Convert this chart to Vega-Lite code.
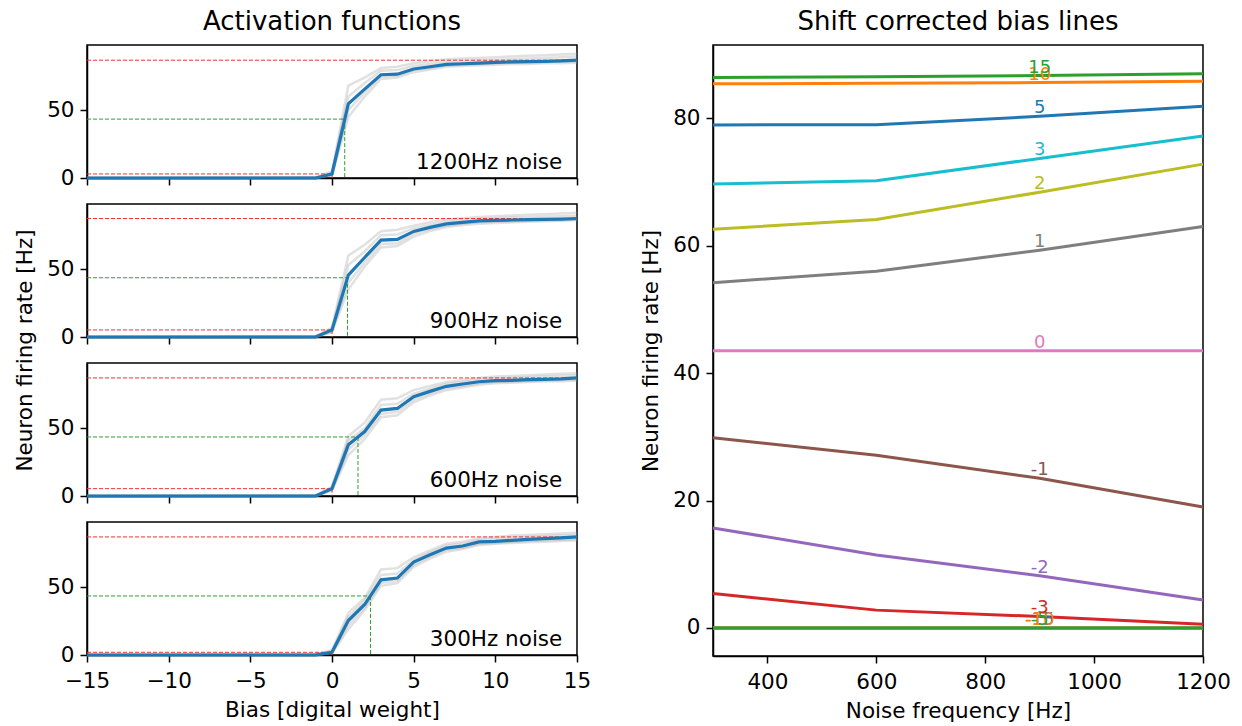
{
"$schema":"https://vega.github.io/schema/vega-lite/v6.json",
"autosize":{"type":"pad"},
"padding":{"left":13,"top":8,"right":10,"bottom":5},
"background":"white",
"config":{
 "font":"DejaVu Sans",
 "view":{"stroke":"black","strokeWidth":1.5},
 "axis":{"domainColor":"black","domainWidth":1.5,"tickColor":"black","tickWidth":1.5,"tickSize":7,"labelFontSize":21.5,"labelColor":"black","titleFontSize":21.5,"titleFontWeight":"normal","titleColor":"black","grid":false,"labelFont":"DejaVu Sans","titleFont":"DejaVu Sans","labelPadding":3,"labelFlush":false,"labelOverlap":false,"labelBound":false,"format":"d"},
 "axisY":{"labelPadding":6,"titlePadding":10},
 "axisX":{"labelPadding":8,"titlePadding":8},
 "title":{"fontSize":26,"fontWeight":"normal","font":"DejaVu Sans","color":"black","offset":10,"anchor":"middle"},
 "text":{"font":"DejaVu Sans"}
},
"datasets":{
"act":[
{"p":1200,"s":"m","b":-15,"v":0},{"p":1200,"s":"m","b":-1,"v":0},{"p":1200,"s":"m","b":0,"v":3},{"p":1200,"s":"m","b":1,"v":54.7},{"p":1200,"s":"m","b":2,"v":65.5},{"p":1200,"s":"m","b":3,"v":76.1},{"p":1200,"s":"m","b":4,"v":76.5},{"p":1200,"s":"m","b":5,"v":80.3},{"p":1200,"s":"m","b":6,"v":82},{"p":1200,"s":"m","b":7,"v":83.7},{"p":1200,"s":"m","b":8,"v":84.2},{"p":1200,"s":"m","b":9,"v":84.7},{"p":1200,"s":"m","b":10,"v":85.2},{"p":1200,"s":"m","b":11,"v":85.5},{"p":1200,"s":"m","b":12,"v":85.7},{"p":1200,"s":"m","b":13,"v":86},{"p":1200,"s":"m","b":14,"v":86.3},{"p":1200,"s":"m","b":15,"v":86.8},
{"p":1200,"s":"g1","b":-15,"v":0},{"p":1200,"s":"g1","b":-1,"v":0.5},{"p":1200,"s":"g1","b":0,"v":5},{"p":1200,"s":"g1","b":1,"v":68},{"p":1200,"s":"g1","b":2,"v":74},{"p":1200,"s":"g1","b":3,"v":81},{"p":1200,"s":"g1","b":4,"v":82},{"p":1200,"s":"g1","b":5,"v":84.5},{"p":1200,"s":"g1","b":6,"v":86},{"p":1200,"s":"g1","b":7,"v":87.5},{"p":1200,"s":"g1","b":8,"v":88},{"p":1200,"s":"g1","b":9,"v":88.5},{"p":1200,"s":"g1","b":10,"v":89},{"p":1200,"s":"g1","b":11,"v":89.5},{"p":1200,"s":"g1","b":12,"v":90},{"p":1200,"s":"g1","b":13,"v":90.5},{"p":1200,"s":"g1","b":14,"v":91},{"p":1200,"s":"g1","b":15,"v":91.5},
{"p":1200,"s":"g2","b":-15,"v":0},{"p":1200,"s":"g2","b":-1,"v":0},{"p":1200,"s":"g2","b":0,"v":2},{"p":1200,"s":"g2","b":1,"v":45},{"p":1200,"s":"g2","b":2,"v":60},{"p":1200,"s":"g2","b":3,"v":73},{"p":1200,"s":"g2","b":4,"v":74},{"p":1200,"s":"g2","b":5,"v":78},{"p":1200,"s":"g2","b":6,"v":80},{"p":1200,"s":"g2","b":7,"v":82},{"p":1200,"s":"g2","b":8,"v":82.5},{"p":1200,"s":"g2","b":9,"v":83},{"p":1200,"s":"g2","b":10,"v":83.5},{"p":1200,"s":"g2","b":11,"v":84},{"p":1200,"s":"g2","b":12,"v":84},{"p":1200,"s":"g2","b":13,"v":84.5},{"p":1200,"s":"g2","b":14,"v":84.5},{"p":1200,"s":"g2","b":15,"v":85},
{"p":1200,"s":"g3","b":-15,"v":0},{"p":1200,"s":"g3","b":-1,"v":0.3},{"p":1200,"s":"g3","b":0,"v":4},{"p":1200,"s":"g3","b":1,"v":60},{"p":1200,"s":"g3","b":2,"v":70},{"p":1200,"s":"g3","b":3,"v":79},{"p":1200,"s":"g3","b":4,"v":79.5},{"p":1200,"s":"g3","b":5,"v":82.5},{"p":1200,"s":"g3","b":6,"v":84},{"p":1200,"s":"g3","b":7,"v":85.5},{"p":1200,"s":"g3","b":8,"v":86},{"p":1200,"s":"g3","b":9,"v":86.5},{"p":1200,"s":"g3","b":10,"v":87},{"p":1200,"s":"g3","b":11,"v":87.5},{"p":1200,"s":"g3","b":12,"v":88},{"p":1200,"s":"g3","b":13,"v":88.5},{"p":1200,"s":"g3","b":14,"v":89},{"p":1200,"s":"g3","b":15,"v":89.5},
{"p":1200,"s":"g4","b":-15,"v":0},{"p":1200,"s":"g4","b":-1,"v":0},{"p":1200,"s":"g4","b":0,"v":2.5},{"p":1200,"s":"g4","b":1,"v":50},{"p":1200,"s":"g4","b":2,"v":63},{"p":1200,"s":"g4","b":3,"v":75},{"p":1200,"s":"g4","b":4,"v":75.5},{"p":1200,"s":"g4","b":5,"v":79.5},{"p":1200,"s":"g4","b":6,"v":81},{"p":1200,"s":"g4","b":7,"v":83},{"p":1200,"s":"g4","b":8,"v":83.5},{"p":1200,"s":"g4","b":9,"v":84},{"p":1200,"s":"g4","b":10,"v":84.5},{"p":1200,"s":"g4","b":11,"v":85},{"p":1200,"s":"g4","b":12,"v":85.2},{"p":1200,"s":"g4","b":13,"v":85.5},{"p":1200,"s":"g4","b":14,"v":85.8},{"p":1200,"s":"g4","b":15,"v":86},
{"p":900,"s":"m","b":-15,"v":0},{"p":900,"s":"m","b":-1,"v":0},{"p":900,"s":"m","b":0,"v":5.2},{"p":900,"s":"m","b":1,"v":45.6},{"p":900,"s":"m","b":2,"v":58.6},{"p":900,"s":"m","b":3,"v":71.4},{"p":900,"s":"m","b":4,"v":71.9},{"p":900,"s":"m","b":5,"v":77.8},{"p":900,"s":"m","b":6,"v":80.8},{"p":900,"s":"m","b":7,"v":83.3},{"p":900,"s":"m","b":8,"v":84.5},{"p":900,"s":"m","b":9,"v":85.5},{"p":900,"s":"m","b":10,"v":86},{"p":900,"s":"m","b":11,"v":86.2},{"p":900,"s":"m","b":12,"v":86.5},{"p":900,"s":"m","b":13,"v":86.7},{"p":900,"s":"m","b":14,"v":86.9},{"p":900,"s":"m","b":15,"v":87.3},
{"p":900,"s":"g1","b":-15,"v":0},{"p":900,"s":"g1","b":-1,"v":0.5},{"p":900,"s":"g1","b":0,"v":7},{"p":900,"s":"g1","b":1,"v":60},{"p":900,"s":"g1","b":2,"v":68},{"p":900,"s":"g1","b":3,"v":78},{"p":900,"s":"g1","b":4,"v":79},{"p":900,"s":"g1","b":5,"v":82},{"p":900,"s":"g1","b":6,"v":84.5},{"p":900,"s":"g1","b":7,"v":86.5},{"p":900,"s":"g1","b":8,"v":87.5},{"p":900,"s":"g1","b":9,"v":88.5},{"p":900,"s":"g1","b":10,"v":89},{"p":900,"s":"g1","b":11,"v":89.5},{"p":900,"s":"g1","b":12,"v":90},{"p":900,"s":"g1","b":13,"v":90.5},{"p":900,"s":"g1","b":14,"v":91},{"p":900,"s":"g1","b":15,"v":91.5},
{"p":900,"s":"g2","b":-15,"v":0},{"p":900,"s":"g2","b":-1,"v":0},{"p":900,"s":"g2","b":0,"v":3.5},{"p":900,"s":"g2","b":1,"v":35},{"p":900,"s":"g2","b":2,"v":52},{"p":900,"s":"g2","b":3,"v":66},{"p":900,"s":"g2","b":4,"v":67},{"p":900,"s":"g2","b":5,"v":74},{"p":900,"s":"g2","b":6,"v":78},{"p":900,"s":"g2","b":7,"v":81},{"p":900,"s":"g2","b":8,"v":82.5},{"p":900,"s":"g2","b":9,"v":83.5},{"p":900,"s":"g2","b":10,"v":84},{"p":900,"s":"g2","b":11,"v":84.5},{"p":900,"s":"g2","b":12,"v":85},{"p":900,"s":"g2","b":13,"v":85.3},{"p":900,"s":"g2","b":14,"v":85.6},{"p":900,"s":"g2","b":15,"v":86},
{"p":900,"s":"g3","b":-15,"v":0},{"p":900,"s":"g3","b":-1,"v":0.3},{"p":900,"s":"g3","b":0,"v":6},{"p":900,"s":"g3","b":1,"v":53},{"p":900,"s":"g3","b":2,"v":63},{"p":900,"s":"g3","b":3,"v":75},{"p":900,"s":"g3","b":4,"v":75.5},{"p":900,"s":"g3","b":5,"v":80},{"p":900,"s":"g3","b":6,"v":82.5},{"p":900,"s":"g3","b":7,"v":85},{"p":900,"s":"g3","b":8,"v":86},{"p":900,"s":"g3","b":9,"v":87},{"p":900,"s":"g3","b":10,"v":87.5},{"p":900,"s":"g3","b":11,"v":88},{"p":900,"s":"g3","b":12,"v":88.3},{"p":900,"s":"g3","b":13,"v":88.6},{"p":900,"s":"g3","b":14,"v":89},{"p":900,"s":"g3","b":15,"v":89.3},
{"p":900,"s":"g4","b":-15,"v":0},{"p":900,"s":"g4","b":-1,"v":0},{"p":900,"s":"g4","b":0,"v":4},{"p":900,"s":"g4","b":1,"v":40},{"p":900,"s":"g4","b":2,"v":55},{"p":900,"s":"g4","b":3,"v":68.5},{"p":900,"s":"g4","b":4,"v":69},{"p":900,"s":"g4","b":5,"v":76},{"p":900,"s":"g4","b":6,"v":79.5},{"p":900,"s":"g4","b":7,"v":82},{"p":900,"s":"g4","b":8,"v":83.5},{"p":900,"s":"g4","b":9,"v":84.5},{"p":900,"s":"g4","b":10,"v":85},{"p":900,"s":"g4","b":11,"v":85.3},{"p":900,"s":"g4","b":12,"v":85.6},{"p":900,"s":"g4","b":13,"v":86},{"p":900,"s":"g4","b":14,"v":86.3},{"p":900,"s":"g4","b":15,"v":86.6},
{"p":600,"s":"m","b":-15,"v":0},{"p":600,"s":"m","b":-1,"v":0},{"p":600,"s":"m","b":0,"v":5.4},{"p":600,"s":"m","b":1,"v":37.7},{"p":600,"s":"m","b":2,"v":47.5},{"p":600,"s":"m","b":3,"v":63.3},{"p":600,"s":"m","b":4,"v":64.5},{"p":600,"s":"m","b":5,"v":73.2},{"p":600,"s":"m","b":6,"v":77.1},{"p":600,"s":"m","b":7,"v":80.8},{"p":600,"s":"m","b":8,"v":82.5},{"p":600,"s":"m","b":9,"v":84.2},{"p":600,"s":"m","b":10,"v":85},{"p":600,"s":"m","b":11,"v":85.2},{"p":600,"s":"m","b":12,"v":85.7},{"p":600,"s":"m","b":13,"v":86},{"p":600,"s":"m","b":14,"v":86.3},{"p":600,"s":"m","b":15,"v":87},
{"p":600,"s":"g1","b":-15,"v":0},{"p":600,"s":"g1","b":-1,"v":0.5},{"p":600,"s":"g1","b":0,"v":7},{"p":600,"s":"g1","b":1,"v":44},{"p":600,"s":"g1","b":2,"v":54},{"p":600,"s":"g1","b":3,"v":71},{"p":600,"s":"g1","b":4,"v":72},{"p":600,"s":"g1","b":5,"v":78},{"p":600,"s":"g1","b":6,"v":81},{"p":600,"s":"g1","b":7,"v":84},{"p":600,"s":"g1","b":8,"v":85.5},{"p":600,"s":"g1","b":9,"v":87},{"p":600,"s":"g1","b":10,"v":88},{"p":600,"s":"g1","b":11,"v":88.5},{"p":600,"s":"g1","b":12,"v":89},{"p":600,"s":"g1","b":13,"v":89.5},{"p":600,"s":"g1","b":14,"v":90},{"p":600,"s":"g1","b":15,"v":90.5},
{"p":600,"s":"g2","b":-15,"v":0},{"p":600,"s":"g2","b":-1,"v":0},{"p":600,"s":"g2","b":0,"v":4},{"p":600,"s":"g2","b":1,"v":30},{"p":600,"s":"g2","b":2,"v":42},{"p":600,"s":"g2","b":3,"v":58},{"p":600,"s":"g2","b":4,"v":59.5},{"p":600,"s":"g2","b":5,"v":69},{"p":600,"s":"g2","b":6,"v":74},{"p":600,"s":"g2","b":7,"v":78},{"p":600,"s":"g2","b":8,"v":80},{"p":600,"s":"g2","b":9,"v":82},{"p":600,"s":"g2","b":10,"v":83},{"p":600,"s":"g2","b":11,"v":83.5},{"p":600,"s":"g2","b":12,"v":84},{"p":600,"s":"g2","b":13,"v":84.3},{"p":600,"s":"g2","b":14,"v":84.6},{"p":600,"s":"g2","b":15,"v":85},
{"p":600,"s":"g3","b":-15,"v":0},{"p":600,"s":"g3","b":-1,"v":0.3},{"p":600,"s":"g3","b":0,"v":6},{"p":600,"s":"g3","b":1,"v":41},{"p":600,"s":"g3","b":2,"v":50},{"p":600,"s":"g3","b":3,"v":67},{"p":600,"s":"g3","b":4,"v":68},{"p":600,"s":"g3","b":5,"v":75.5},{"p":600,"s":"g3","b":6,"v":79},{"p":600,"s":"g3","b":7,"v":82.5},{"p":600,"s":"g3","b":8,"v":84},{"p":600,"s":"g3","b":9,"v":85.5},{"p":600,"s":"g3","b":10,"v":86.5},{"p":600,"s":"g3","b":11,"v":87},{"p":600,"s":"g3","b":12,"v":87.5},{"p":600,"s":"g3","b":13,"v":88},{"p":600,"s":"g3","b":14,"v":88.5},{"p":600,"s":"g3","b":15,"v":89},
{"p":600,"s":"g4","b":-15,"v":0},{"p":600,"s":"g4","b":-1,"v":0},{"p":600,"s":"g4","b":0,"v":4.5},{"p":600,"s":"g4","b":1,"v":34},{"p":600,"s":"g4","b":2,"v":45},{"p":600,"s":"g4","b":3,"v":60.5},{"p":600,"s":"g4","b":4,"v":62},{"p":600,"s":"g4","b":5,"v":71},{"p":600,"s":"g4","b":6,"v":75.5},{"p":600,"s":"g4","b":7,"v":79.5},{"p":600,"s":"g4","b":8,"v":81},{"p":600,"s":"g4","b":9,"v":83},{"p":600,"s":"g4","b":10,"v":84},{"p":600,"s":"g4","b":11,"v":84.3},{"p":600,"s":"g4","b":12,"v":84.8},{"p":600,"s":"g4","b":13,"v":85.2},{"p":600,"s":"g4","b":14,"v":85.5},{"p":600,"s":"g4","b":15,"v":86},
{"p":300,"s":"m","b":-15,"v":0},{"p":300,"s":"m","b":-1,"v":0},{"p":300,"s":"m","b":0,"v":2},{"p":300,"s":"m","b":1,"v":25.4},{"p":300,"s":"m","b":2,"v":37.2},{"p":300,"s":"m","b":3,"v":55.4},{"p":300,"s":"m","b":4,"v":56.7},{"p":300,"s":"m","b":5,"v":68.5},{"p":300,"s":"m","b":6,"v":73.9},{"p":300,"s":"m","b":7,"v":78.8},{"p":300,"s":"m","b":8,"v":80.3},{"p":300,"s":"m","b":9,"v":83.3},{"p":300,"s":"m","b":10,"v":83.7},{"p":300,"s":"m","b":11,"v":84.5},{"p":300,"s":"m","b":12,"v":85.2},{"p":300,"s":"m","b":13,"v":85.7},{"p":300,"s":"m","b":14,"v":86.3},{"p":300,"s":"m","b":15,"v":87},
{"p":300,"s":"g1","b":-15,"v":0},{"p":300,"s":"g1","b":-1,"v":0.5},{"p":300,"s":"g1","b":0,"v":3.5},{"p":300,"s":"g1","b":1,"v":31},{"p":300,"s":"g1","b":2,"v":42},{"p":300,"s":"g1","b":3,"v":63},{"p":300,"s":"g1","b":4,"v":64},{"p":300,"s":"g1","b":5,"v":72},{"p":300,"s":"g1","b":6,"v":77},{"p":300,"s":"g1","b":7,"v":82},{"p":300,"s":"g1","b":8,"v":83.5},{"p":300,"s":"g1","b":9,"v":86},{"p":300,"s":"g1","b":10,"v":87},{"p":300,"s":"g1","b":11,"v":88},{"p":300,"s":"g1","b":12,"v":88.5},{"p":300,"s":"g1","b":13,"v":89},{"p":300,"s":"g1","b":14,"v":89.5},{"p":300,"s":"g1","b":15,"v":90},
{"p":300,"s":"g2","b":-15,"v":0},{"p":300,"s":"g2","b":-1,"v":0},{"p":300,"s":"g2","b":0,"v":1.5},{"p":300,"s":"g2","b":1,"v":19},{"p":300,"s":"g2","b":2,"v":33},{"p":300,"s":"g2","b":3,"v":51},{"p":300,"s":"g2","b":4,"v":53},{"p":300,"s":"g2","b":5,"v":65},{"p":300,"s":"g2","b":6,"v":71},{"p":300,"s":"g2","b":7,"v":76},{"p":300,"s":"g2","b":8,"v":78},{"p":300,"s":"g2","b":9,"v":81},{"p":300,"s":"g2","b":10,"v":82},{"p":300,"s":"g2","b":11,"v":82.5},{"p":300,"s":"g2","b":12,"v":83},{"p":300,"s":"g2","b":13,"v":83.5},{"p":300,"s":"g2","b":14,"v":84},{"p":300,"s":"g2","b":15,"v":84.5},
{"p":300,"s":"g3","b":-15,"v":0},{"p":300,"s":"g3","b":-1,"v":0.3},{"p":300,"s":"g3","b":0,"v":3},{"p":300,"s":"g3","b":1,"v":28},{"p":300,"s":"g3","b":2,"v":40},{"p":300,"s":"g3","b":3,"v":59},{"p":300,"s":"g3","b":4,"v":60},{"p":300,"s":"g3","b":5,"v":70},{"p":300,"s":"g3","b":6,"v":75.5},{"p":300,"s":"g3","b":7,"v":80.5},{"p":300,"s":"g3","b":8,"v":82},{"p":300,"s":"g3","b":9,"v":84.5},{"p":300,"s":"g3","b":10,"v":85.5},{"p":300,"s":"g3","b":11,"v":86.5},{"p":300,"s":"g3","b":12,"v":87},{"p":300,"s":"g3","b":13,"v":87.5},{"p":300,"s":"g3","b":14,"v":88},{"p":300,"s":"g3","b":15,"v":88.5},
{"p":300,"s":"g4","b":-15,"v":0},{"p":300,"s":"g4","b":-1,"v":0},{"p":300,"s":"g4","b":0,"v":2},{"p":300,"s":"g4","b":1,"v":22},{"p":300,"s":"g4","b":2,"v":35},{"p":300,"s":"g4","b":3,"v":53},{"p":300,"s":"g4","b":4,"v":55},{"p":300,"s":"g4","b":5,"v":66.5},{"p":300,"s":"g4","b":6,"v":72.5},{"p":300,"s":"g4","b":7,"v":77.5},{"p":300,"s":"g4","b":8,"v":79},{"p":300,"s":"g4","b":9,"v":82},{"p":300,"s":"g4","b":10,"v":82.5},{"p":300,"s":"g4","b":11,"v":83.3},{"p":300,"s":"g4","b":12,"v":84},{"p":300,"s":"g4","b":13,"v":84.5},{"p":300,"s":"g4","b":14,"v":85},{"p":300,"s":"g4","b":15,"v":85.5}
],
"ref":[
{"p":1200,"k":"r","x1":-15,"x2":15,"y1":86.8,"y2":86.8},{"p":1200,"k":"r","x1":-15,"x2":0,"y1":3,"y2":3},{"p":1200,"k":"r","x1":0,"x2":0,"y1":3,"y2":0},{"p":1200,"k":"g","x1":-15,"x2":0.78,"y1":43.4,"y2":43.4},{"p":1200,"k":"g","x1":0.78,"x2":0.78,"y1":43.4,"y2":0},
{"p":900,"k":"r","x1":-15,"x2":15,"y1":87.3,"y2":87.3},{"p":900,"k":"r","x1":-15,"x2":0,"y1":5.2,"y2":5.2},{"p":900,"k":"r","x1":0,"x2":0,"y1":5.2,"y2":0},{"p":900,"k":"g","x1":-15,"x2":0.95,"y1":43.65,"y2":43.65},{"p":900,"k":"g","x1":0.95,"x2":0.95,"y1":43.65,"y2":0},
{"p":600,"k":"r","x1":-15,"x2":15,"y1":87,"y2":87},{"p":600,"k":"r","x1":-15,"x2":0,"y1":5.4,"y2":5.4},{"p":600,"k":"r","x1":0,"x2":0,"y1":5.4,"y2":0},{"p":600,"k":"g","x1":-15,"x2":1.59,"y1":43.5,"y2":43.5},{"p":600,"k":"g","x1":1.59,"x2":1.59,"y1":43.5,"y2":0},
{"p":300,"k":"r","x1":-15,"x2":15,"y1":87,"y2":87},{"p":300,"k":"r","x1":-15,"x2":0,"y1":2,"y2":2},{"p":300,"k":"r","x1":0,"x2":0,"y1":2,"y2":0},{"p":300,"k":"g","x1":-15,"x2":2.36,"y1":43.5,"y2":43.5},{"p":300,"k":"g","x1":2.36,"x2":2.36,"y1":43.5,"y2":0}
],
"lab":[
{"p":1200,"t":"1200Hz noise","b":14.1,"v":6.5},{"p":900,"t":"900Hz noise","b":14.1,"v":6.5},{"p":600,"t":"600Hz noise","b":14.1,"v":6.5},{"p":300,"t":"300Hz noise","b":14.1,"v":6.5}
],
"shift":[
{"bias":"-15","f":300,"v":0},{"bias":"-15","f":600,"v":0},{"bias":"-15","f":900,"v":0},{"bias":"-15","f":1200,"v":0},
{"bias":"-10","f":300,"v":0},{"bias":"-10","f":600,"v":0},{"bias":"-10","f":900,"v":0},{"bias":"-10","f":1200,"v":0},
{"bias":"-5","f":300,"v":0},{"bias":"-5","f":600,"v":0},{"bias":"-5","f":900,"v":0},{"bias":"-5","f":1200,"v":0},
{"bias":"-3","f":300,"v":5.4},{"bias":"-3","f":600,"v":2.8},{"bias":"-3","f":900,"v":1.8},{"bias":"-3","f":1200,"v":0.6},
{"bias":"-2","f":300,"v":15.7},{"bias":"-2","f":600,"v":11.45},{"bias":"-2","f":900,"v":8.2},{"bias":"-2","f":1200,"v":4.4},
{"bias":"-1","f":300,"v":29.85},{"bias":"-1","f":600,"v":27.1},{"bias":"-1","f":900,"v":23.5},{"bias":"-1","f":1200,"v":19.0},
{"bias":"0","f":300,"v":43.5},{"bias":"0","f":600,"v":43.5},{"bias":"0","f":900,"v":43.5},{"bias":"0","f":1200,"v":43.5},
{"bias":"1","f":300,"v":54.2},{"bias":"1","f":600,"v":56.0},{"bias":"1","f":900,"v":59.3},{"bias":"1","f":1200,"v":63.0},
{"bias":"2","f":300,"v":62.6},{"bias":"2","f":600,"v":64.1},{"bias":"2","f":900,"v":68.4},{"bias":"2","f":1200,"v":72.8},
{"bias":"3","f":300,"v":69.7},{"bias":"3","f":600,"v":70.2},{"bias":"3","f":900,"v":73.7},{"bias":"3","f":1200,"v":77.2},
{"bias":"5","f":300,"v":78.95},{"bias":"5","f":600,"v":79.0},{"bias":"5","f":900,"v":80.3},{"bias":"5","f":1200,"v":81.9},
{"bias":"10","f":300,"v":85.4},{"bias":"10","f":600,"v":85.5},{"bias":"10","f":900,"v":85.6},{"bias":"10","f":1200,"v":85.8},
{"bias":"15","f":300,"v":86.4},{"bias":"15","f":600,"v":86.5},{"bias":"15","f":900,"v":86.7},{"bias":"15","f":1200,"v":87.0}
]
},
"resolve":{"scale":{"color":"independent"}},
"spacing":47,
"hconcat":[
{"vconcat":[
 {"width":490,"height":133,"title":"Activation functions",
  "layer":[
   {"data":{"name":"act"},"transform":[{"filter":"datum.p==1200 && datum.s!='m'"}],"mark":{"type":"line","color":"#9a9a9a","opacity":0.3,"strokeWidth":2.5},
    "encoding":{"x":{"field":"b","type":"quantitative","scale":{"domain":[-15,15],"nice":false,"zero":false},"axis":{"values":[-15,-10,-5,0,5,10,15],"labels":false,"title":null}},"y":{"field":"v","type":"quantitative","scale":{"domain":[0,98],"nice":false},"axis":{"values":[0,50],"title":null}},"detail":{"field":"s"}}},
   {"data":{"name":"ref"},"transform":[{"filter":"datum.p==1200"}],"mark":{"type":"rule","strokeDash":[4,2],"strokeWidth":1},
    "encoding":{"x":{"field":"x1","type":"quantitative"},"x2":{"field":"x2"},"y":{"field":"y1","type":"quantitative"},"y2":{"field":"y2"},"color":{"field":"k","type":"nominal","scale":{"domain":["r","g"],"range":["#ff2a2a","#2ca02c"]},"legend":null}}},
   {"data":{"name":"act"},"transform":[{"filter":"datum.p==1200 && datum.s=='m'"}],"mark":{"type":"line","color":"#1f77b4","strokeWidth":3.2},
    "encoding":{"x":{"field":"b","type":"quantitative"},"y":{"field":"v","type":"quantitative"}}},
   {"data":{"name":"lab"},"transform":[{"filter":"datum.p==1200"}],"mark":{"type":"text","align":"right","baseline":"alphabetic","fontSize":21.5,"color":"black"},
    "encoding":{"x":{"field":"b","type":"quantitative"},"y":{"field":"v","type":"quantitative"},"text":{"field":"t"}}}
  ]},
 {"width":490,"height":133,
  "layer":[
   {"data":{"name":"act"},"transform":[{"filter":"datum.p==900 && datum.s!='m'"}],"mark":{"type":"line","color":"#9a9a9a","opacity":0.3,"strokeWidth":2.5},
    "encoding":{"x":{"field":"b","type":"quantitative","scale":{"domain":[-15,15],"nice":false,"zero":false},"axis":{"values":[-15,-10,-5,0,5,10,15],"labels":false,"title":null}},"y":{"field":"v","type":"quantitative","scale":{"domain":[0,98],"nice":false},"axis":{"values":[0,50],"title":"Neuron firing rate [Hz]","titleY":146}},"detail":{"field":"s"}}},
   {"data":{"name":"ref"},"transform":[{"filter":"datum.p==900"}],"mark":{"type":"rule","strokeDash":[4,2],"strokeWidth":1},
    "encoding":{"x":{"field":"x1","type":"quantitative"},"x2":{"field":"x2"},"y":{"field":"y1","type":"quantitative"},"y2":{"field":"y2"},"color":{"field":"k","type":"nominal","scale":{"domain":["r","g"],"range":["#ff2a2a","#2ca02c"]},"legend":null}}},
   {"data":{"name":"act"},"transform":[{"filter":"datum.p==900 && datum.s=='m'"}],"mark":{"type":"line","color":"#1f77b4","strokeWidth":3.2},
    "encoding":{"x":{"field":"b","type":"quantitative"},"y":{"field":"v","type":"quantitative"}}},
   {"data":{"name":"lab"},"transform":[{"filter":"datum.p==900"}],"mark":{"type":"text","align":"right","baseline":"alphabetic","fontSize":21.5,"color":"black"},
    "encoding":{"x":{"field":"b","type":"quantitative"},"y":{"field":"v","type":"quantitative"},"text":{"field":"t"}}}
  ]},
 {"width":490,"height":133,
  "layer":[
   {"data":{"name":"act"},"transform":[{"filter":"datum.p==600 && datum.s!='m'"}],"mark":{"type":"line","color":"#9a9a9a","opacity":0.3,"strokeWidth":2.5},
    "encoding":{"x":{"field":"b","type":"quantitative","scale":{"domain":[-15,15],"nice":false,"zero":false},"axis":{"values":[-15,-10,-5,0,5,10,15],"labels":false,"title":null}},"y":{"field":"v","type":"quantitative","scale":{"domain":[0,98],"nice":false},"axis":{"values":[0,50],"title":null}},"detail":{"field":"s"}}},
   {"data":{"name":"ref"},"transform":[{"filter":"datum.p==600"}],"mark":{"type":"rule","strokeDash":[4,2],"strokeWidth":1},
    "encoding":{"x":{"field":"x1","type":"quantitative"},"x2":{"field":"x2"},"y":{"field":"y1","type":"quantitative"},"y2":{"field":"y2"},"color":{"field":"k","type":"nominal","scale":{"domain":["r","g"],"range":["#ff2a2a","#2ca02c"]},"legend":null}}},
   {"data":{"name":"act"},"transform":[{"filter":"datum.p==600 && datum.s=='m'"}],"mark":{"type":"line","color":"#1f77b4","strokeWidth":3.2},
    "encoding":{"x":{"field":"b","type":"quantitative"},"y":{"field":"v","type":"quantitative"}}},
   {"data":{"name":"lab"},"transform":[{"filter":"datum.p==600"}],"mark":{"type":"text","align":"right","baseline":"alphabetic","fontSize":21.5,"color":"black"},
    "encoding":{"x":{"field":"b","type":"quantitative"},"y":{"field":"v","type":"quantitative"},"text":{"field":"t"}}}
  ]},
 {"width":490,"height":133,
  "layer":[
   {"data":{"name":"act"},"transform":[{"filter":"datum.p==300 && datum.s!='m'"}],"mark":{"type":"line","color":"#9a9a9a","opacity":0.3,"strokeWidth":2.5},
    "encoding":{"x":{"field":"b","type":"quantitative","scale":{"domain":[-15,15],"nice":false,"zero":false},"axis":{"values":[-15,-10,-5,0,5,10,15],"title":"Bias [digital weight]"}},"y":{"field":"v","type":"quantitative","scale":{"domain":[0,98],"nice":false},"axis":{"values":[0,50],"title":null}},"detail":{"field":"s"}}},
   {"data":{"name":"ref"},"transform":[{"filter":"datum.p==300"}],"mark":{"type":"rule","strokeDash":[4,2],"strokeWidth":1},
    "encoding":{"x":{"field":"x1","type":"quantitative"},"x2":{"field":"x2"},"y":{"field":"y1","type":"quantitative"},"y2":{"field":"y2"},"color":{"field":"k","type":"nominal","scale":{"domain":["r","g"],"range":["#ff2a2a","#2ca02c"]},"legend":null}}},
   {"data":{"name":"act"},"transform":[{"filter":"datum.p==300 && datum.s=='m'"}],"mark":{"type":"line","color":"#1f77b4","strokeWidth":3.2},
    "encoding":{"x":{"field":"b","type":"quantitative"},"y":{"field":"v","type":"quantitative"}}},
   {"data":{"name":"lab"},"transform":[{"filter":"datum.p==300"}],"mark":{"type":"text","align":"right","baseline":"alphabetic","fontSize":21.5,"color":"black"},
    "encoding":{"x":{"field":"b","type":"quantitative"},"y":{"field":"v","type":"quantitative"},"text":{"field":"t"}}}
  ]}
 ],
 "spacing":26,
 "bounds":"flush"
},
{"width":490,"height":611,"title":"Shift corrected bias lines",
 "layer":[
  {"data":{"name":"shift"},"mark":{"type":"line","strokeWidth":3},
   "encoding":{"x":{"field":"f","type":"quantitative","scale":{"domain":[300,1200],"nice":false,"zero":false},"axis":{"values":[400,600,800,1000,1200],"title":"Noise frequency [Hz]"}},
    "y":{"field":"v","type":"quantitative","scale":{"domain":[-4.4,91.5],"nice":false,"zero":false},"axis":{"values":[0,20,40,60,80],"title":"Neuron firing rate [Hz]"}},
    "color":{"field":"bias","type":"nominal","scale":{"domain":["-15","-10","-5","-3","-2","-1","0","1","2","3","5","10","15"],"range":["#1f77b4","#ff7f0e","#2ca02c","#d62728","#9467bd","#8c564b","#e377c2","#7f7f7f","#bcbd22","#17becf","#1f77b4","#ff7f0e","#2ca02c"]},"legend":null}}},
  {"data":{"name":"shift"},"transform":[{"filter":"datum.f==900"}],"mark":{"type":"text","fontSize":18,"dy":-3,"baseline":"alphabetic","align":"center"},
   "encoding":{"x":{"field":"f","type":"quantitative"},"y":{"field":"v","type":"quantitative"},"text":{"field":"bias"},
    "color":{"field":"bias","type":"nominal","legend":null}}}
 ]}
]
}
